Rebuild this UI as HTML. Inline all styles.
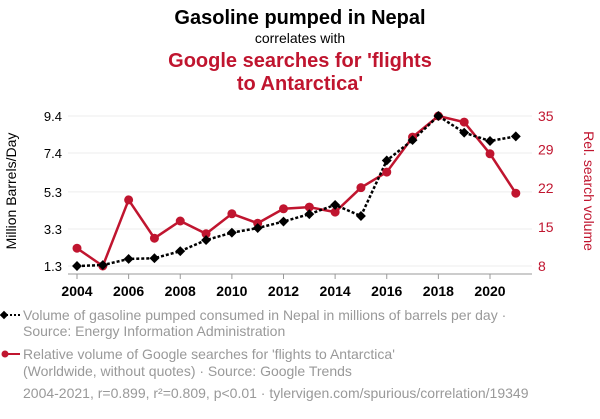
<!DOCTYPE html>
<html><head><meta charset="utf-8"><style>
body{margin:0;background:#fff;width:600px;height:414px;overflow:hidden;font-family:"Liberation Sans",Arial,sans-serif}
</style></head><body>
<svg width="600" height="414" xmlns="http://www.w3.org/2000/svg" id="chart" font-family="Liberation Sans, Arial, sans-serif">
<text x="300" y="24" text-anchor="middle" font-size="20" font-weight="bold" fill="#000">Gasoline pumped in Nepal</text>
<text x="300" y="43" text-anchor="middle" font-size="14" fill="#000">correlates with</text>
<text x="300" y="67" text-anchor="middle" font-size="20" font-weight="bold" fill="#c0152f">Google searches for 'flights</text>
<text x="300" y="90" text-anchor="middle" font-size="20" font-weight="bold" fill="#c0152f">to Antarctica'</text>
<g id="grid"></g><g id="axes"></g><g id="marks"></g>
<text transform="translate(16,191) rotate(-90)" text-anchor="middle" font-size="14" fill="#000">Million Barrels/Day</text>
<text transform="translate(584,191) rotate(90)" text-anchor="middle" font-size="14" fill="#c0152f">Rel. search volume</text>
<g>
<line x1="2" y1="315" x2="20" y2="315" stroke="#000" stroke-width="2" stroke-dasharray="2,2"/>
<rect x="1" y="312" width="6" height="6" transform="rotate(45 4 315)" fill="#000"/>
<text x="23" y="320" font-size="14" fill="#999">Volume of gasoline pumped consumed in Nepal in millions of barrels per day ·</text>
<text x="23" y="336" font-size="14" fill="#999">Source: Energy Information Administration</text>
</g>
<g>
<line x1="4" y1="354" x2="20" y2="354" stroke="#c0152f" stroke-width="2"/>
<circle cx="5" cy="354" r="3.5" fill="#c0152f"/>
<text x="23" y="359" font-size="14" fill="#999">Relative volume of Google searches for 'flights to Antarctica'</text>
<text x="23" y="376" font-size="14" fill="#999">(Worldwide, without quotes) · Source: Google Trends</text>
</g>
<text x="23" y="398" font-size="14" fill="#999">2004-2021, r=0.899, r²=0.809, p&lt;0.01 · tylervigen.com/spurious/correlation/19349</text>
</svg>
<script>
const years=[2004,2005,2006,2007,2008,2009,2010,2011,2012,2013,2014,2015,2016,2017,2018,2019,2020,2021];
const gasoline=[1.3,1.35,1.68,1.72,2.1,2.7,3.1,3.35,3.7,4.1,4.6,4.0,7.0,8.1,9.4,8.5,8.05,8.3];
const searches=[11.2,8,19.9,13.0,16.1,13.8,17.4,15.7,18.3,18.6,17.7,22.1,24.9,31.2,35,33.9,28.2,21.1];
const leftTicks=[1.3,3.3,5.3,7.4,9.4];
const rightTicks=[8,15,22,29,35];
const xTicks=[2004,2006,2008,2010,2012,2014,2016,2018,2020];
const NS="http://www.w3.org/2000/svg";
const x=v=>77+(v-2004)*(490-77)/16;
const yL=v=>266-(v-1.3)*150/8.1;
const yR=v=>266-(v-8)*150/27;
function mk(t,a,p){const e=document.createElementNS(NS,t);for(const k in a)e.setAttribute(k,a[k]);if(p)p.appendChild(e);return e;}
const grid=document.getElementById('grid'),axes=document.getElementById('axes'),marks=document.getElementById('marks');
leftTicks.forEach((v,i)=>{
 const g=mk('line',{x1:68,x2:532,y1:yL(v),y2:yL(v),stroke:'#eee','stroke-width':1},grid);
 
 
 const t=mk('text',{x:62,y:yL(v)+5,'text-anchor':'end','font-size':13,fill:'#000'},axes);t.textContent=v.toFixed(1);
 
 
});
rightTicks.forEach(v=>{
 const t=mk('text',{x:538,y:yR(v)+5,'font-size':14,fill:'#c0152f'},axes);t.textContent=v;
 
 
});
const ax=mk('line',{x1:68,x2:532,y1:274,y2:274,stroke:'#999','stroke-width':1},axes);


xTicks.forEach(v=>{
 mk('line',{x1:x(v),x2:x(v),y1:274,y2:279,stroke:'#999'},axes);
 const t=mk('text',{x:x(v),y:296,'text-anchor':'middle','font-size':14,'font-weight':'bold',fill:'#000'},axes);t.textContent=v;
 
 
});
const rl=mk('polyline',{points:years.map((y,i)=>x(y)+','+yR(searches[i])).join(' '),fill:'none',stroke:'#c0152f','stroke-width':2.5},marks);


const bl=mk('polyline',{points:years.map((y,i)=>x(y)+','+yL(gasoline[i])).join(' '),fill:'none',stroke:'#000','stroke-width':2.5,'stroke-dasharray':'3,2'},marks);


years.forEach((y,i)=>{
 const c=mk('circle',{cx:x(y),cy:yR(searches[i]),r:4.5,fill:'#c0152f'},marks);
 
 
});
years.forEach((y,i)=>{
 const cx=x(y),cy=yL(gasoline[i]);
 const d=mk('rect',{x:cx-3.5,y:cy-3.5,width:7,height:7,fill:'#000',transform:`rotate(45 ${cx} ${cy})`},marks);
 
 
});
</script>
</body></html>
